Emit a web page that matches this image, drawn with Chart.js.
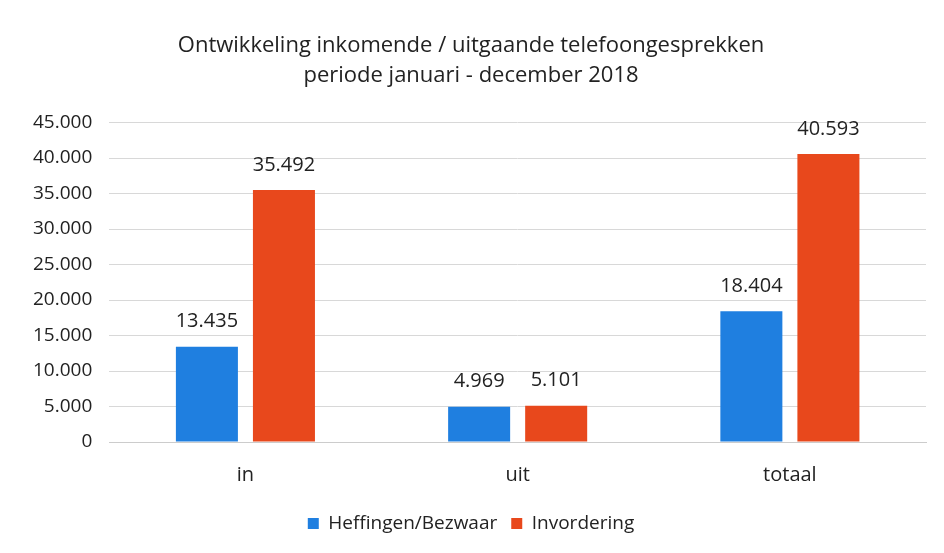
<!DOCTYPE html>
<html>
<head>
<meta charset="utf-8">
<script src="https://cdn.jsdelivr.net/npm/chart.js@4.4.0/dist/chart.umd.min.js"></script>
<style>
  html, body { margin: 0; padding: 0; background: #fff; }
  #wrap { width: 944px; height: 553px; }
</style>
</head>
<body>
<div id="wrap"><canvas id="chart"></canvas></div>
<script>
// Data
const categories = ["in", "uit", "totaal"];
const heffingen = [13435, 4969, 18404];
const invordering = [35492, 5101, 40593];
const seriesNames = ["Heffingen/Bezwaar", "Invordering"];
const titleLines = ["Ontwikkeling inkomende / uitgaande telefoongesprekken", "periode januari - december 2018"];

const fontFamily = "'Open Sans', 'Noto Sans', sans-serif";
const nl = n => n.toLocaleString("nl-NL");

// Draw value labels above bars
const valueLabels = {
  id: "valueLabels",
  afterDatasetsDraw(chart) {
    const ctx = chart.ctx;
    ctx.save();
    ctx.font = "20px " + fontFamily;
    ctx.fillStyle = "#222";
    ctx.textAlign = "center";
    ctx.textBaseline = "bottom";
    chart.data.datasets.forEach((ds, i) => {
      chart.getDatasetMeta(i).data.forEach((bar, j) => {
        ctx.fillText(nl(ds.data[j]), bar.x, bar.y - 15);
      });
    });
    ctx.restore();
  }
};

new Chart(document.getElementById("chart"), {
  type: "bar",
  data: {
    labels: categories,
    datasets: [
      { label: seriesNames[0], data: heffingen, backgroundColor: "#1f7fe0" },
      { label: seriesNames[1], data: invordering, backgroundColor: "#e8481c" }
    ]
  },
  options: {
    responsive: true,
    maintainAspectRatio: false,
    animation: false,
    layout: { padding: { left: 16, right: 18, top: 10, bottom: 10 } },
    datasets: { bar: { categoryPercentage: 0.566, barPercentage: 0.805 } },
    plugins: {
      title: {
        display: true,
        text: titleLines,
        color: "#222",
        font: { family: fontFamily, size: 22, weight: "normal", lineHeight: 1.4 },
        padding: { top: 20, bottom: 31 }
      },
      legend: {
        position: "bottom",
        labels: {
          color: "#222",
          boxWidth: 11,
          boxHeight: 11,
          padding: 14,
          font: { family: fontFamily, size: 19 }
        }
      },
      tooltip: { enabled: false }
    },
    scales: {
      x: {
        grid: { display: false },
        border: { color: "#ccc" },
        ticks: { color: "#222", font: { family: fontFamily, size: 20 }, padding: 13 }
      },
      y: {
        min: 0,
        max: 45000,
        ticks: {
          stepSize: 5000,
          color: "#222",
          padding: 17,
          font: { family: fontFamily, size: 19 },
          callback: v => nl(v)
        },
        border: { display: false },
        grid: { color: "#d8d8d8", borderDash: [2, 3], drawTicks: false }
      }
    }
  },
  plugins: [valueLabels]
});
</script>
</body>
</html>
